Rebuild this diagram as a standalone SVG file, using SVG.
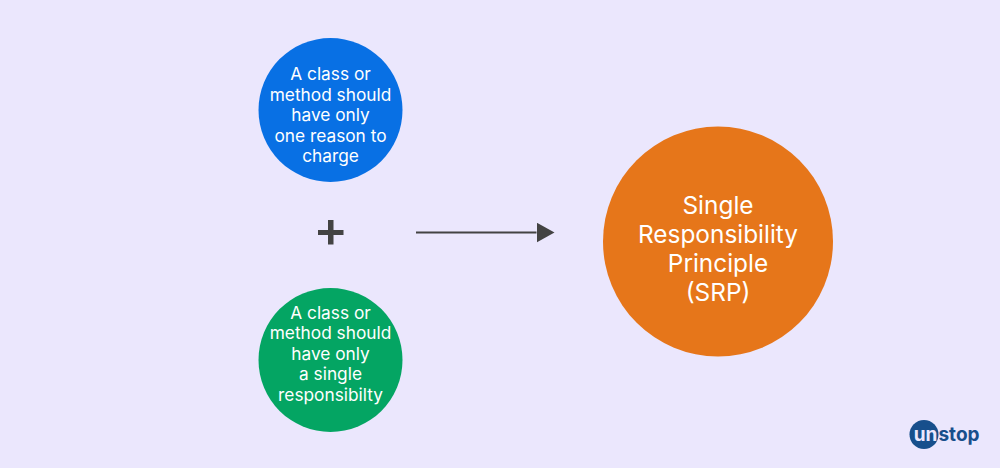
<svg xmlns="http://www.w3.org/2000/svg" width="1000" height="468" viewBox="0 0 1000 468">
  <style>
    text { font-family: Inter, "Liberation Sans", sans-serif; text-anchor: middle; fill: #ffffff; }
    .small { font-size: 17.3px; }
    .large { font-size: 24.4px; }
    .dark { fill: #434343; }
    .wire { stroke: #434343; stroke-width: 2; fill: none; }
  </style>
  <defs>
    <marker id="head" markerUnits="userSpaceOnUse" markerWidth="18" markerHeight="20" refX="0" refY="10" orient="auto">
      <path d="M0 0 L18 10 L0 20 Z" fill="#434343"/>
    </marker>
  </defs>
  <rect width="1000" height="468" fill="#ebe7fd"/>

  <g id="node-reason">
    <circle cx="330.500" cy="110" r="72" fill="#0870e4"/>
    <text class="small" x="330.500" y="80">A class or</text>
    <text class="small" x="330.500" y="101">method should</text>
    <text class="small" x="330.500" y="121">have only</text>
    <text class="small" x="330.500" y="142">one reason to</text>
    <text class="small" x="330.500" y="162">charge</text>
  </g>

  <g id="node-responsibility">
    <circle cx="330.500" cy="360" r="72" fill="#04a563"/>
    <text class="small" x="330.500" y="319">A class or</text>
    <text class="small" x="330.500" y="339">method should</text>
    <text class="small" x="330.500" y="360">have only</text>
    <text class="small" x="330.500" y="380">a single</text>
    <text class="small" x="330.500" y="401">responsibilty</text>
  </g>

  <g id="node-plus">
    <path class="dark" d="M328 220 H333.500 V230 H343.500 V235 H333.500 V244.500 H328 V235 H318 V230 H328 Z"/>
  </g>

  <g id="connectors">
    <line class="wire" x1="416" y1="232.500" x2="536.500" y2="232.500" marker-end="url(#head)"/>
  </g>

  <g id="node-srp">
    <circle cx="718" cy="241.500" r="115" fill="#e6761a"/>
    <text class="large" x="718" y="214">Single</text>
    <text class="large" x="718" y="243">Responsibility</text>
    <text class="large" x="718" y="272">Principle</text>
    <text class="large" x="718" y="301">(SRP)</text>
  </g>

  <g id="logo">
    <circle cx="924" cy="434.500" r="14.500" fill="#174f8c"/>
    <text x="925.500" y="441" style="font-size:19px;font-weight:700;fill:#ebe7fd">un</text>
    <text x="959" y="441" style="font-size:19px;font-weight:700;fill:#174f8c">stop</text>
  </g>
</svg>
